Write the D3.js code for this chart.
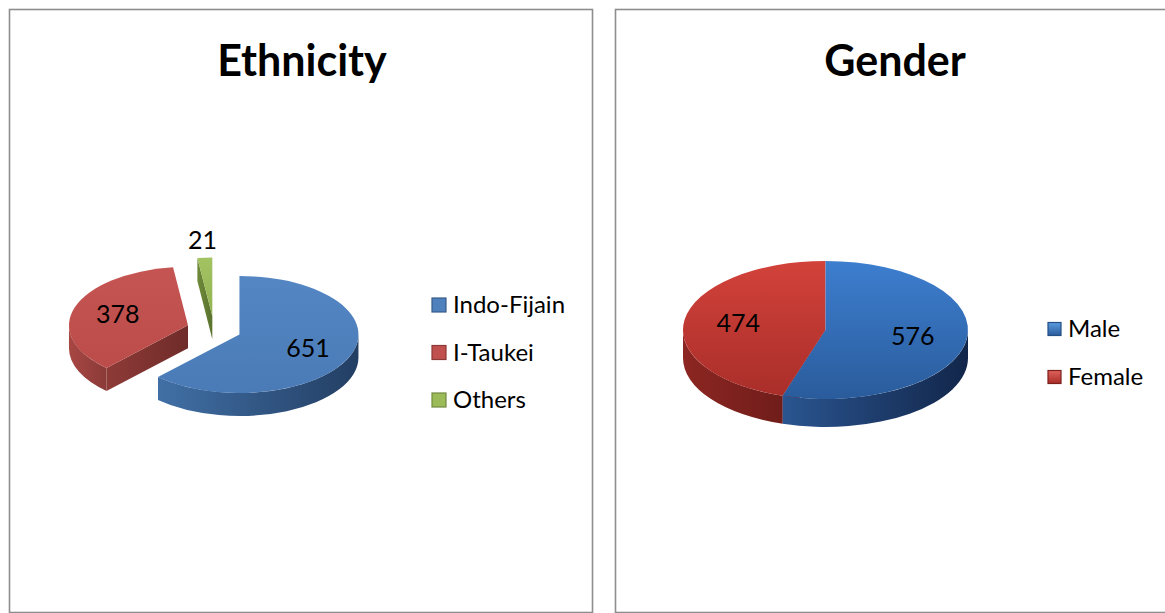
<!DOCTYPE html>
<html>
<head>
<meta charset="utf-8">
<title>Ethnicity / Gender</title>
<script src="https://d3js.org/d3.v7.min.js"></script>
<style>
  body { margin: 0; background: #fff; }
  text { font-family: Lato, "Open Sans", sans-serif; fill: #000; }
  .title { font-size: 43px; font-weight: bold; }
  .val { font-size: 25px; }
  .leg { font-size: 24px; }
</style>
</head>
<body>
<svg id="chart" width="1165" height="613"></svg>
<script>
// data
var ethnicityNames = ["Indo-Fijain", "I-Taukei", "Others"];
var ethnicityCounts = [651, 378, 21];
var genderNames = ["Male", "Female"];
var genderCounts = [576, 474];

// colours (top face, outer wall, cut wall)
var ethPalette = [
    { top: ['#5386c3', '#4a7bb7'], side: ['#4170a6', '#233e63'], wall: ['#3a6294', '#2a4a72'], key: '#4f81bd', keyStroke: '#385d8a' },
    { top: ['#c45552', '#bb4c49'], side: ['#a84744', '#8a3a37'], wall: ['#8e3a37', '#6f2c2a'], key: '#c0504d', keyStroke: '#8c3836' },
    { top: ['#a3c262', '#93b352'], side: ['#7d9945', '#5f7832'], wall: ['#6f8a3a', '#5a722d'], key: '#9bbb59', keyStroke: '#71893f' }
];
var genPalette = [
    { top: ['#3d7ecf', '#2a5c9c'], side: ['#2a5590', '#12264a'], wall: ['#2a5590', '#1a3560'], key: ['#5b9be0', '#2a5c9c'], keyStroke: '#244f85' },
    { top: ['#d2423a', '#aa2e2a'], side: ['#8c2622', '#701d1a'], wall: ['#8c2622', '#701d1a'], key: ['#e0625b', '#a82c28'], keyStroke: '#7a201d' }
];

var svg = d3.select('#chart');
var defs = svg.append('defs');
var gradCount = 0;

function grad(colors, vertical) {
    var id = 'g' + (gradCount++);
    var lg = defs.append('linearGradient').attr('id', id)
        .attr('x1', 0).attr('y1', 0)
        .attr('x2', vertical ? 0 : 1).attr('y2', vertical ? 1 : 0);
    lg.append('stop').attr('offset', '0%').attr('stop-color', colors[0]);
    lg.append('stop').attr('offset', '100%').attr('stop-color', colors[1]);
    return 'url(#' + id + ')';
}

// panel frames
function panel(x, y, w, h) {
    svg.append('rect')
        .attr('x', x).attr('y', y).attr('width', w).attr('height', h)
        .attr('fill', 'none').attr('stroke', '#8e8e8e').attr('stroke-width', 1.6);
}
panel(9.5, 9.5, 583, 603);
panel(615.5, 9.5, 600, 603);

svg.append('text').attr('class', 'title').attr('x', 302).attr('y', 76)
    .attr('text-anchor', 'middle').text('Ethnicity');
svg.append('text').attr('class', 'title').attr('x', 895).attr('y', 76)
    .attr('text-anchor', 'middle').text('Gender');

function drawPie(values, palette, o) {
    var g = svg.append('g');
    var arcs = d3.pie().sort(null)(values);
    var total = d3.sum(values);

    function proj(c, a, r) {
        return [c[0] + o.rx * r * Math.sin(a), c[1] - o.ry * r * Math.cos(a)];
    }
    function down(p) { return [p[0], p[1] + o.depth]; }

    arcs.forEach(function (d, i) {
        var mid = (d.startAngle + d.endAngle) / 2;
        var off = proj([0, 0], mid, o.explode);
        d.center = [o.cx + off[0], o.cy + off[1]];
        d.mid = mid;
        d.pal = palette[i];
    });

    // back slices first
    var order = arcs.slice().sort(function (a, b) { return Math.cos(b.mid) - Math.cos(a.mid); });

    order.forEach(function (d) {
        var c = d.center, a0 = d.startAngle, a1 = d.endAngle;
        var p0 = proj(c, a0, 1), p1 = proj(c, a1, 1);

        // cut walls that face the viewer
        var wallFill = grad(d.pal.wall, false);
        if (Math.sin(a0) < -1e-6) {
            g.append('path').attr('fill', wallFill)
                .attr('d', 'M' + c + 'L' + p0 + 'L' + down(p0) + 'L' + down(c) + 'Z');
        }
        if (Math.sin(a1) > 1e-6) {
            g.append('path').attr('fill', wallFill)
                .attr('d', 'M' + c + 'L' + p1 + 'L' + down(p1) + 'L' + down(c) + 'Z');
        }

        // outer rim on the front half
        var b0 = Math.max(a0, Math.PI / 2), b1 = Math.min(a1, 3 * Math.PI / 2);
        if (b1 > b0) {
            var q0 = proj(c, b0, 1), q1 = proj(c, b1, 1);
            g.append('path').attr('fill', grad(d.pal.side, false))
                .attr('d', 'M' + q0 + 'A' + o.rx + ',' + o.ry + ' 0 0 1 ' + q1 +
                    'L' + down(q1) + 'A' + o.rx + ',' + o.ry + ' 0 0 0 ' + down(q0) + 'Z');
        }

        // top face
        var large = (a1 - a0) > Math.PI ? 1 : 0;
        g.append('path').attr('fill', grad(d.pal.top, true))
            .attr('d', 'M' + c + 'L' + p0 + 'A' + o.rx + ',' + o.ry + ' 0 ' + large + ' 1 ' + p1 + 'Z');
    });

    // value labels
    arcs.forEach(function (d) {
        var small = d.value / total < 0.05;
        var p = proj(d.center, d.mid, small ? 1.3 : o.labelF);
        g.append('text').attr('class', 'val')
            .attr('x', p[0]).attr('y', p[1])
            .attr('dy', '0.35em')
            .attr('text-anchor', 'middle')
            .text(d.value);
    });
}

function drawLegend(names, palette, x, ys, size) {
    var g = svg.append('g');
    names.forEach(function (n, i) {
        var fill = Array.isArray(palette[i].key) ? grad(palette[i].key, true) : palette[i].key;
        g.append('rect')
            .attr('x', x).attr('y', ys[i] - size / 2)
            .attr('width', size).attr('height', size)
            .attr('fill', fill)
            .attr('stroke', palette[i].keyStroke).attr('stroke-width', 1.2);
        g.append('text').attr('class', 'leg')
            .attr('x', x + size + 7).attr('y', ys[i])
            .attr('dy', '0.35em')
            .text(n);
    });
}

drawPie(ethnicityCounts, ethPalette,
    { cx: 214, cy: 329.5, rx: 119, ry: 58.5, depth: 23, explode: 0.23, labelF: 0.62 });
drawPie(genderCounts, genPalette,
    { cx: 825.5, cy: 330, rx: 142.5, ry: 69, depth: 28, explode: 0, labelF: 0.62 });

drawLegend(ethnicityNames, ethPalette, 432, [305, 352.5, 400], 14);
drawLegend(genderNames, genPalette, 1048, [329, 377], 13);
</script>
</body>
</html>
